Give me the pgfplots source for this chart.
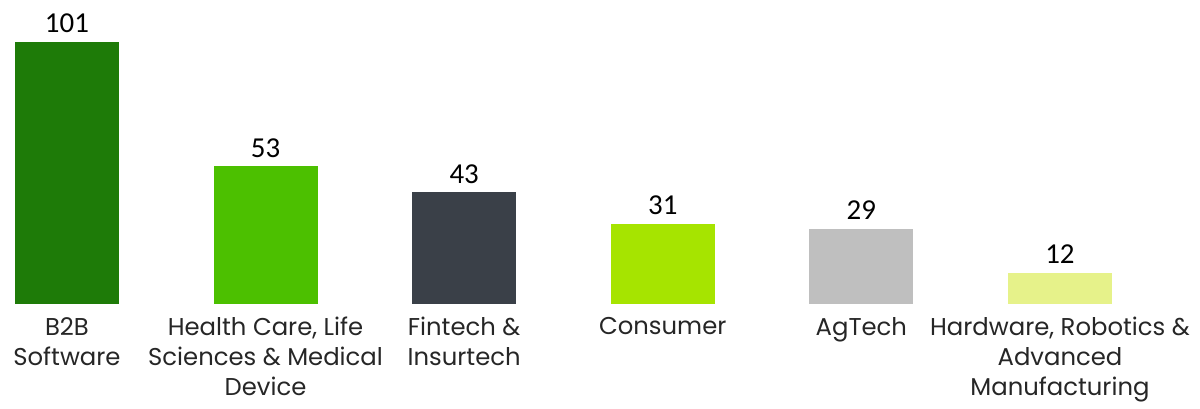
\documentclass[border=0pt]{standalone}
\usepackage{fontspec}
\setmainfont{Poppins}
\newfontfamily\valfont{Carlito}
\usepackage{pgfplots}
\pgfplotsset{compat=1.18}

\definecolor{cB2B}{RGB}{30,123,8}
\definecolor{cHealth}{RGB}{76,192,0}
\definecolor{cFin}{RGB}{58,64,72}
\definecolor{cCons}{RGB}{166,228,0}
\definecolor{cAg}{RGB}{191,191,191}
\definecolor{cHw}{RGB}{230,242,138}

\begin{document}
\begin{tikzpicture}
\begin{axis}[
    width=600bp, height=152bp, scale only axis,
    xmin=-0.337, xmax=5.705,
    ymin=0, ymax=116.9,
    ybar, bar width=52bp, bar shift=0pt,
    axis line style={draw=none},
    major tick length=0pt,
    ytick=\empty,
    xtick={0,1,2,3,4,5},
    xticklabels={{B2B\\Software},
                 {Health Care, Life\\Sciences \& Medical\\Device},
                 {Fintech \&\\Insurtech},
                 {Consumer},
                 {AgTech},
                 {Hardware, Robotics \&\\Advanced\\Manufacturing}},
    xticklabel style={align=center, text=black!85,
        font=\fontsize{12.2}{15}\selectfont, yshift=-3bp},
    /pgf/number format/assume math mode=true,
    nodes near coords,
    nodes near coords style={font=\valfont\fontsize{14.5}{15}\selectfont,
        text=black, yshift=1bp},
    clip=false,
]
\addplot[fill=cB2B, draw=none] coordinates {(0,101)};
\addplot[fill=cHealth, draw=none] coordinates {(1,53)};
\addplot[fill=cFin, draw=none] coordinates {(2,43)};
\addplot[fill=cCons, draw=none] coordinates {(3,31)};
\addplot[fill=cAg, draw=none] coordinates {(4,29)};
\addplot[fill=cHw, draw=none] coordinates {(5,12)};
\end{axis}
\end{tikzpicture}
\end{document}
